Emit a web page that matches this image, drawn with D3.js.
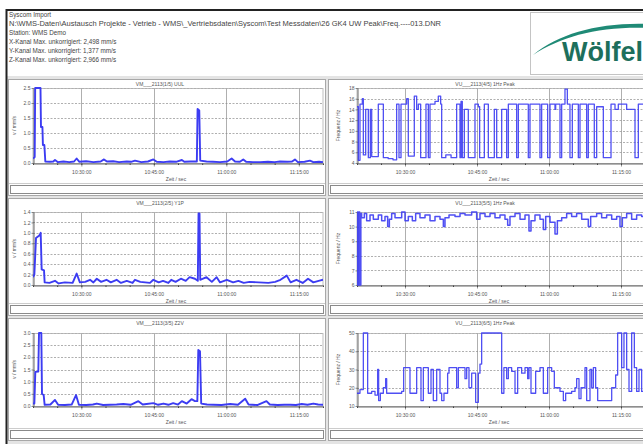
<!DOCTYPE html>
<html>
<head>
<meta charset="utf-8">
<script src="https://cdn.jsdelivr.net/npm/d3@7"></script>
<style>
html, body { margin: 0; padding: 0; background: #fff; }
svg { display: block; font-family: "Liberation Sans", Arial, sans-serif; }
</style>
</head>
<body>
<svg id="page" width="643" height="444"></svg>
<script>
// report header
const headerLines = [
    "Syscom Import",
    "N:\\WMS-Daten\\Austausch Projekte - Vetrieb - WMS\\_Vertriebsdaten\\Syscom\\Test Messdaten\\26 GK4 UW Peak\\Freq.----013.DNR",
    "Station:  WMS Demo",
    "X-Kanal  Max. unkorrigiert:  2,498  mm/s",
    "Y-Kanal  Max. unkorrigiert:  1,377  mm/s",
    "Z-Kanal  Max. unkorrigiert:  2,966  mm/s",
];

const panelTitles = [
    "VM___2113(1/5) UUL", "VU___2113(4/5) 1Hz Peak",
    "VM___2113(2/5) Y1P", "VU___2113(5/5) 1Hz Peak",
    "VM___2113(3/5) Z2V", "VU___2113(6/5) 1Hz Peak",
];

// time axis: minutes after 10:20:00
const timeStart = "10:20:00";
const timeEnd = "11:20:00";

// X channel velocity (mm/s)
const xTime = [0, 0.35, 0.45, 1.55, 1.65, 1.95, 2.05, 2.35, 2.55, 3.5, 4.2, 4.55, 5.1, 6.3, 7.5, 8.5, 9.03, 9.6, 11, 12.5, 14.0, 14.69, 15.3, 16.6, 17.8, 19.4, 20.3, 21.1, 22.4, 23.8, 24.9, 25.6, 27.0, 28.3, 29.6, 30.8, 31.3, 32.6, 33.9, 34.05, 34.4, 34.6, 35.9, 37.2, 38.7, 40.2, 41.1, 41.8, 42.8, 43.5, 44.1, 45.5, 47.0, 48.6, 50.0, 51.1, 52.6, 53.6, 54.2, 54.8, 56.2, 57.3, 58.0, 59.2, 60];
const xVel = [0.15, 0.2, 2.5, 2.5, 1.2, 1.2, 0.6, 0.6, 0.05, 0.04, 0.05, 0.1, 0.03, 0.05, 0.03, 0.05, 0.15, 0.04, 0.06, 0.03, 0.05, 0.12, 0.05, 0.06, 0.03, 0.05, 0.04, 0.08, 0.03, 0.05, 0.12, 0.04, 0.03, 0.05, 0.04, 0.1, 0.04, 0.05, 0.05, 1.8, 1.75, 0.08, 0.05, 0.04, 0.03, 0.05, 0.15, 0.05, 0.04, 0.12, 0.04, 0.03, 0.03, 0.04, 0.03, 0.05, 0.04, 0.05, 0.12, 0.03, 0.04, 0.08, 0.03, 0.04, 0.03];

// Y channel velocity (mm/s)
const yTime = [0, 0.28, 0.62, 1.31, 1.59, 1.79, 2.28, 2.41, 3.4, 4.55, 5.3, 6.6, 8.2, 9.03, 9.7, 10.8, 11.8, 12.5, 13.2, 14.1, 15.2, 16.1, 17.3, 18.2, 19.4, 20.6, 21.1, 22.2, 23.2, 24.2, 24.9, 26.0, 26.9, 28.0, 28.6, 29.5, 30.6, 31.6, 32.4, 33.5, 34.1, 34.25, 34.45, 34.6, 35.9, 37.0, 38.0, 38.7, 40.1, 41.4, 42.5, 43.6, 44.8, 46.7, 48.7, 50.1, 51.2, 52.5, 53.3, 54.5, 55.8, 56.9, 58.0, 59.1, 60];
const yVel = [0.15, 0.2, 0.9, 0.95, 1.0, 0.3, 0.28, 0.05, 0.04, 0.08, 0.03, 0.05, 0.04, 0.22, 0.05, 0.06, 0.1, 0.05, 0.12, 0.06, 0.1, 0.05, 0.1, 0.04, 0.08, 0.04, 0.1, 0.06, 0.05, 0.04, 0.1, 0.05, 0.08, 0.04, 0.1, 0.06, 0.12, 0.08, 0.15, 0.12, 0.08, 1.37, 1.37, 0.1, 0.15, 0.06, 0.15, 0.05, 0.1, 0.05, 0.08, 0.04, 0.06, 0.05, 0.04, 0.06, 0.1, 0.18, 0.05, 0.1, 0.04, 0.12, 0.05, 0.08, 0.1];

// Z channel velocity (mm/s)
const zTime = [0, 0.28, 0.48, 1.1, 1.24, 1.72, 1.86, 2.21, 2.41, 3.6, 4.55, 5.2, 6.6, 8.0, 8.9, 9.5, 11.0, 12.4, 13.2, 14.5, 15.9, 17.3, 18.7, 20.2, 21.8, 22.7, 23.5, 24.9, 25.9, 27.0, 28.0, 29.0, 30.0, 30.8, 31.8, 32.8, 33.5, 34.0, 34.2, 34.55, 34.8, 36.0, 37.3, 39.0, 40.8, 42.4, 43.9, 44.6, 46.4, 48.3, 49.0, 50.6, 52.0, 53.2, 54.4, 55.6, 56.8, 58.0, 59.0, 60];
const zVel = [0.1, 0.1, 1.4, 1.42, 3.0, 3.0, 0.5, 0.45, 0.05, 0.06, 0.25, 0.05, 0.04, 0.06, 0.45, 0.05, 0.04, 0.06, 0.1, 0.04, 0.05, 0.06, 0.08, 0.05, 0.2, 0.06, 0.08, 0.12, 0.05, 0.1, 0.05, 0.12, 0.06, 0.2, 0.1, 0.28, 0.2, 0.2, 2.3, 2.25, 0.1, 0.06, 0.05, 0.04, 0.08, 0.05, 0.3, 0.06, 0.04, 0.2, 0.06, 0.04, 0.05, 0.05, 0.04, 0.08, 0.05, 0.1, 0.06, 0.05];

// dominant frequency, channel 1 (Hz), steps
const f1Time = [0, 0.28, 0.62, 1.11, 1.32, 1.81, 2.36, 2.78, 3.06, 4.44, 5.49, 6.5, 7.5, 8.26, 8.75, 9.17, 10.35, 10.69, 11.94, 12.43, 12.78, 13.26, 14.37, 14.86, 15.21, 16.25, 16.94, 17.43, 17.64, 18.5, 19.6, 20.76, 21.46, 21.67, 21.94, 22.36, 23.19, 24.58, 25.28, 25.55, 26.53, 27.36, 28.61, 29.1, 30.14, 31.18, 31.53, 33.26, 33.61, 35.69, 36.04, 38.12, 38.47, 39.72, 40.21, 41.25, 41.39, 42.29, 42.64, 43.33, 43.82, 44.37, 44.86, 46.11, 46.46, 47.85, 48.19, 49.44, 49.93, 51.32, 52.92, 53.75, 54.44, 56.18, 57.92, 58.61, 60];
const f1Hz = [14.5, 4.5, 15, 16, 5.5, 14, 5, 14, 5.2, 15, 5, 4.8, 4.6, 15, 5, 15, 16, 5.3, 16.5, 14, 15, 5, 15, 5, 15, 15.5, 16.5, 15, 5, 5.5, 5, 15, 5, 15.5, 5, 14, 5, 15, 14.5, 5, 15, 5, 14, 5, 14, 5, 15, 5, 15, 5, 15, 5, 15, 5, 15, 14, 15, 5, 15, 17.8, 15, 5, 15, 5, 15, 5, 15, 5, 14.5, 5, 15, 14, 15, 14, 5, 15, 15];

// dominant frequency, channel 2 (Hz), steps
const f2Time = [0, 0.1, 0.35, 0.55, 0.8, 0.97, 1.53, 2.01, 2.71, 3.4, 4.44, 5.14, 5.83, 6.39, 6.74, 7.22, 7.92, 9.31, 10.0, 10.69, 11.53, 12.22, 13.12, 14.17, 15.21, 16.25, 17.29, 17.99, 18.33, 19.17, 20.42, 21.46, 22.5, 23.89, 24.93, 25.62, 26.67, 27.71, 28.75, 29.79, 30.83, 31.39, 31.87, 32.92, 33.96, 35.0, 35.83, 36.25, 37.08, 38.12, 38.82, 39.31, 40.21, 41.25, 41.74, 42.64, 43.68, 44.72, 45.76, 46.81, 48.19, 48.68, 49.93, 50.97, 52.01, 53.06, 54.1, 54.79, 55.28, 56.18, 57.22, 58.26, 59.3, 60];
const f2Hz = [11, 6, 11, 6, 10.9, 10.6, 10.9, 10.4, 10.8, 10.5, 10.8, 10.4, 10.7, 10.0, 10.5, 10.9, 10.6, 11.0, 10.4, 10.7, 10.4, 10.9, 10.6, 10.8, 10.4, 10.7, 10.5, 10.0, 10.6, 10.8, 10.7, 10.9, 10.8, 11.0, 10.5, 10.9, 10.7, 10.9, 10.6, 10.8, 10.5, 10.1, 10.7, 10.9, 10.5, 10.8, 9.7, 10.4, 10.8, 10.5, 9.8, 10.7, 10.3, 9.5, 10.4, 10.6, 10.9, 10.7, 10.9, 10.5, 10.0, 10.7, 10.9, 10.6, 10.8, 10.5, 10.7, 10.0, 10.6, 10.9, 10.5, 10.8, 10.7, 10.7];

// dominant frequency, channel 3 (Hz), steps
const f3Time = [0, 0.62, 1.32, 2.22, 3.06, 3.75, 4.3, 4.51, 4.86, 5.49, 5.97, 6.18, 9.31, 9.72, 11.04, 12.43, 13.33, 13.82, 14.86, 15.42, 15.9, 16.6, 17.29, 17.64, 18.12, 18.88, 19.17, 20.76, 21.11, 22.5, 22.85, 23.33, 23.89, 24.72, 25.28, 25.62, 25.97, 30.14, 30.6, 31.18, 31.53, 32.22, 32.92, 33.47, 34.3, 35.0, 35.55, 35.83, 36.25, 37.22, 38.12, 38.82, 39.72, 40.56, 41.11, 42.29, 42.99, 43.47, 44.72, 45.42, 45.76, 46.25, 46.67, 47.5, 47.85, 48.54, 48.89, 49.24, 49.72, 50.14, 53.06, 53.89, 54.3, 55.14, 55.62, 56.18, 56.67, 57.22, 57.78, 58.26, 58.75, 59.3, 60];
const f3Hz = [17, 19, 50, 17, 18, 16, 30, 13, 17, 20, 25, 17, 18, 31, 17, 31, 13, 31, 17, 30, 13, 30, 17, 13, 17, 28, 31, 20, 31, 25, 31, 20, 28, 12, 28, 33, 50, 17, 31, 25, 31, 29, 17, 31, 28, 31, 25, 31, 17, 29, 31, 17, 31, 29, 20, 18, 13, 17, 18, 20, 25, 14, 20, 31, 13, 30, 20, 31, 20, 13, 20, 27, 50, 31, 50, 30, 18, 50, 31, 18, 30, 18, 18];

// y axis ticks
const xVelTicks = [0, 0.5, 1.0, 1.5, 2.0, 2.5];
const yVelTicks = [0, 0.2, 0.4, 0.6, 0.8, 1.0, 1.2, 1.4];
const zVelTicks = [0, 0.5, 1.0, 1.5, 2.0, 2.5, 3.0];
const f1Ticks = [4, 6, 8, 10, 12, 14, 16, 18];
const f2Ticks = [6, 7, 8, 9, 10, 11];
const f3Ticks = [10, 20, 30, 40, 50];

const velLabel = "v / mm/s";
const freqLabel = "Frequenz / Hz";
const timeLabel = "Zeit / sec";

(function () {
const svg = d3.select("#page");
const parseTime = d3.timeParse("%H:%M:%S");
const t0 = parseTime(timeStart);
const t1 = parseTime(timeEnd);
const toDate = m => new Date(t0.getTime() + m * 60000);
const fmtTime = d3.timeFormat("%H:%M:%S");

const BLUE = "#3c3cf2";
const GREY_TXT = "#555";

function drawHeader() {
    // grey field behind the panels
    svg.append("rect").attr("x", 7).attr("y", 76).attr("width", 640).attr("height", 370).attr("fill", "#e4e4e4");

    svg.append("line").attr("x1", 6).attr("x2", 643).attr("y1", 10).attr("y2", 10)
        .attr("stroke", "#222").attr("stroke-width", 2);
    svg.append("line").attr("x1", 6.5).attr("x2", 6.5).attr("y1", 9).attr("y2", 444)
        .attr("stroke", "#222").attr("stroke-width", 2);

    const txt = svg.append("g").attr("font-size", 6.3).attr("fill", "#444");
    headerLines.forEach((s, i) => {
        const t = txt.append("text").attr("x", 9).attr("y", 17 + i * 9).text(s);
        if (i === 1) t.attr("textLength", 432).attr("lengthAdjust", "spacingAndGlyphs");
    });

    // logo
    const logo = svg.append("g");
    logo.append("rect").attr("x", 530.5).attr("y", 12.5).attr("width", 120).attr("height", 62)
        .attr("fill", "#fff").attr("stroke", "#c4c4c4");
    logo.append("path")
        .attr("d", "M533,55 C560,33 600,22 650,24 L650,28 C600,26 562,36 533,55 Z")
        .attr("fill", "#1f8a76");
    logo.append("text").attr("x", 562).attr("y", 61)
        .attr("font-family", "'Liberation Sans', Arial, sans-serif")
        .attr("font-weight", "bold").attr("font-size", 27)
        .attr("fill", "#1d6f5c").text("Wölfel");
}

function drawPanel(p) {
    const g = svg.append("g");
    const b = p.box;

    g.append("rect").attr("x", b.x + 0.5).attr("y", b.y + 0.5).attr("width", b.w).attr("height", b.h)
        .attr("fill", "#fff").attr("stroke", "#a8a8a8");
    // empty legend strip
    g.append("rect").attr("x", b.x + 2.5).attr("y", b.y + b.h - 9.5).attr("width", b.w - 4).attr("height", 8)
        .attr("fill", "#fff").attr("stroke", "#8a8a8a");
    g.append("line").attr("x1", b.x + 1).attr("x2", b.x + b.w).attr("y1", b.y + b.h - 11.5).attr("y2", b.y + b.h - 11.5)
        .attr("stroke", "#ccc");

    g.append("text").attr("x", b.x + p.titleDx).attr("y", b.y + 6.5)
        .attr("text-anchor", "middle").attr("font-size", 5).attr("fill", GREY_TXT).text(p.title);

    const x = d3.scaleTime().domain([t0, t1]).range([p.plot.x0, p.plot.x1]);
    const y = d3.scaleLinear().domain(d3.extent(p.ticks)).range([p.plot.y1, p.plot.y0]);

    // grid
    g.append("g").selectAll("line").data(p.ticks.slice(1)).join("line")
        .attr("x1", p.plot.x0).attr("x2", p.plot.x1)
        .attr("y1", d => Math.round(y(d)) + 0.5).attr("y2", d => Math.round(y(d)) + 0.5)
        .attr("stroke", "#8c8c8c").attr("stroke-width", 0.7).attr("stroke-dasharray", "2,1.5");
    const majors = x.ticks(d3.timeMinute.every(15));
    g.append("g").selectAll("line").data(majors).join("line")
        .attr("x1", d => Math.round(x(d)) + 0.5).attr("x2", d => Math.round(x(d)) + 0.5)
        .attr("y1", p.plot.y0).attr("y2", p.plot.y1)
        .attr("stroke", "#8c8c8c").attr("stroke-width", 0.7);

    g.append("rect").attr("x", p.plot.x0).attr("y", p.plot.y0 + 0.5)
        .attr("width", p.plot.x1 - p.plot.x0).attr("height", p.plot.y1 - p.plot.y0)
        .attr("fill", "none").attr("stroke", "#b0b0b0").attr("stroke-width", 0.8);

    // axes
    const xAxis = g.append("g").attr("transform", `translate(0,${p.plot.y1 + 0.5})`)
        .call(d3.axisBottom(x).ticks(d3.timeMinute.every(15)).tickFormat(fmtTime).tickSize(3).tickSizeOuter(0));
    g.append("g").attr("transform", `translate(0,${p.plot.y1 + 0.5})`)
        .call(d3.axisBottom(x).ticks(d3.timeMinute.every(5)).tickFormat("").tickSize(1.5).tickSizeOuter(0))
        .call(a => a.select(".domain").remove());
    const yAxis = g.append("g").attr("transform", `translate(${p.plot.x0 + 0.5},0)`)
        .call(d3.axisLeft(y).tickValues(p.ticks).tickFormat(p.fmt).tickSize(2).tickSizeOuter(0));

    for (const a of [xAxis, yAxis]) {
        a.select(".domain").attr("stroke", "#444").attr("stroke-width", 0.8);
        a.selectAll(".tick line").attr("stroke", "#444").attr("stroke-width", 0.6);
        a.selectAll(".tick text").attr("font-size", 5).attr("fill", GREY_TXT)
            .attr("font-family", "'Liberation Sans', Arial, sans-serif");
    }
    g.selectAll(".tick line").attr("stroke", "#444");
    xAxis.selectAll(".tick text").attr("dy", "0.9em");
    yAxis.selectAll(".tick text").attr("x", -3);

    g.append("text").attr("x", (p.plot.x0 + p.plot.x1) / 2 - 2).attr("y", p.plot.y1 + 18)
        .attr("text-anchor", "middle").attr("font-size", 5).attr("fill", GREY_TXT).text(timeLabel);
    g.append("text")
        .attr("transform", `translate(${p.plot.x0 - 17},${(p.plot.y0 + p.plot.y1) / 2}) rotate(-90)`)
        .attr("text-anchor", "middle").attr("font-size", 5).attr("fill", GREY_TXT).text(p.ylabel);

    // data
    const pts = p.times.map((m, i) => [toDate(m), p.values[i]]);
    const clipId = "clip" + p.id;
    g.append("clipPath").attr("id", clipId).append("rect")
        .attr("x", p.plot.x0).attr("y", p.plot.y0 - 2)
        .attr("width", p.plot.x1 - p.plot.x0).attr("height", p.plot.y1 - p.plot.y0 + 3);
    g.append("path").datum(pts)
        .attr("clip-path", `url(#${clipId})`)
        .attr("fill", "none").attr("stroke", BLUE)
        .attr("stroke-width", p.width).attr("stroke-linejoin", "round")
        .attr("opacity", p.opacity)
        .attr("d", d3.line().x(d => x(d[0])).y(d => y(d[1])).curve(p.curve));
}

drawHeader();

const cols = [{ x: 8, w: 317, plotX0: 33, plotX1: 323, titleDx: 152 },
              { x: 328, w: 330, plotX0: 357, plotX1: 645, titleDx: 157 }];
const rows = [{ y: 79, h: 116, plotY0: 88, plotY1: 163 },
              { y: 198, h: 117, plotY0: 212, plotY1: 285 },
              { y: 318, h: 122, plotY0: 333, plotY1: 406 }];

const f1 = d3.format(".1f");
const f0 = d3.format("d");
const series = [
    { times: xTime, values: xVel, ticks: xVelTicks, fmt: f1, ylabel: velLabel, curve: d3.curveLinear, width: 1.9, opacity: 1 },
    { times: f1Time, values: f1Hz, ticks: f1Ticks, fmt: f0, ylabel: freqLabel, curve: d3.curveStepAfter, width: 1.3, opacity: 0.9 },
    { times: yTime, values: yVel, ticks: yVelTicks, fmt: f1, ylabel: velLabel, curve: d3.curveLinear, width: 1.9, opacity: 1 },
    { times: f2Time, values: f2Hz, ticks: f2Ticks, fmt: f0, ylabel: freqLabel, curve: d3.curveStepAfter, width: 1.5, opacity: 0.9 },
    { times: zTime, values: zVel, ticks: zVelTicks, fmt: f1, ylabel: velLabel, curve: d3.curveLinear, width: 1.9, opacity: 1 },
    { times: f3Time, values: f3Hz, ticks: f3Ticks, fmt: f0, ylabel: freqLabel, curve: d3.curveStepAfter, width: 1.3, opacity: 0.9 },
];

series.forEach((s, i) => {
    const c = cols[i % 2];
    const r = rows[Math.floor(i / 2)];
    drawPanel({
        ...s,
        id: i,
        title: panelTitles[i],
        titleDx: c.titleDx,
        box: { x: c.x, y: r.y, w: c.w, h: r.h },
        plot: { x0: c.plotX0, x1: c.plotX1, y0: r.plotY0, y1: r.plotY1 },
    });
});
})();
</script>
</body>
</html>
